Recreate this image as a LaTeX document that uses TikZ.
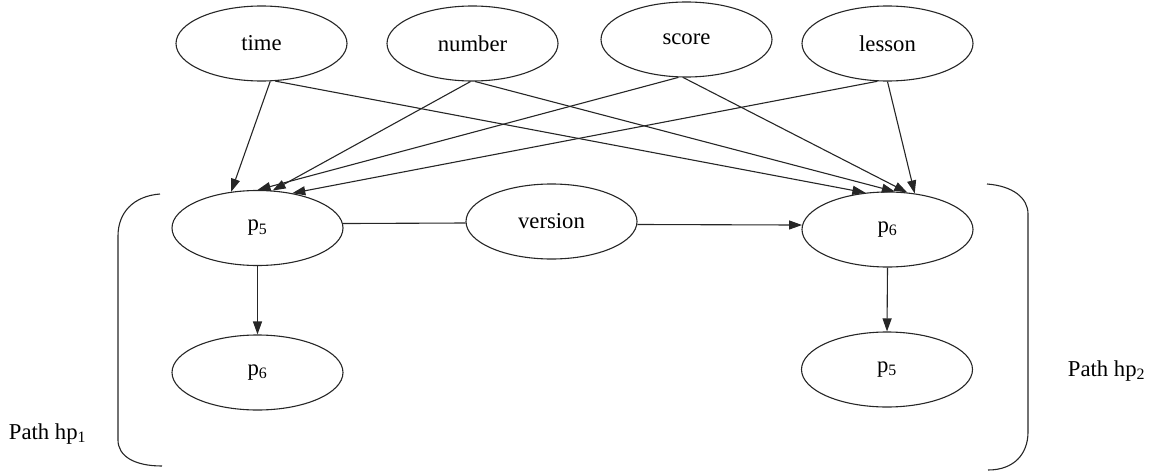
\documentclass[tikz,border=0pt]{standalone}
\usepackage{fontspec}
\setmainfont{Liberation Serif}
\usetikzlibrary{shapes.geometric,arrows.meta}
\begin{document}
\begin{tikzpicture}[x=1pt,y=-1pt,
  ell/.style={ellipse,draw=black!85,line width=1.1pt,minimum width=171pt,minimum height=75pt,inner sep=0pt,font=\fontsize{22.7}{27}\selectfont},
  arr/.style={draw=black!85,line width=1.1pt,-{Triangle[length=13pt,width=9pt]}},
  link/.style={draw=black!85,line width=1.1pt},
  lbl/.style={font=\fontsize{22.7}{27}\selectfont,inner sep=0pt}]
\useasboundingbox (0,0) rectangle (1151,471);
% nodes
\node[ell] (time)   at (261.5,43.5) {time};
\node[ell] (number) at (472.5,43.5) {number};
\node[ell] (score)  at (686.5,39.5) {score};
\node[ell] (lesson) at (887.5,43.5) {lesson};
\node[ell] (p5a)    at (257.5,228)  {p\textsubscript{5}};
\node[ell] (version) at (551.5,221.5) {version};
\node[ell] (p6a)    at (887.5,229.5) {p\textsubscript{6}};
\node[ell] (p6b)    at (257.5,372.5) {p\textsubscript{6}};
\node[ell] (p5b)    at (887,369.5)  {p\textsubscript{5}};
\node[lbl] (hp1) at (47.5,434) {Path hp\textsubscript{1}};
\node[lbl] (hp2) at (1106.5,371) {Path hp\textsubscript{2}};
% top edges
\draw[arr] (time.-77.2) -- (p5a.126.6);
\draw[arr] (time.-70.2) -- (p6a.121.4);
\draw[arr] (number.-93.8) -- (p5a.68.3);
\draw[arr] (number.-86.2) -- (p6a.79.2);
\draw[arr] (score.-102.8) -- (p5a.90.7);
\draw[arr] (score.-95.3) -- (p6a.62.6);
\draw[arr] (lesson.-105.6) -- (p5a.45.4);
\draw[arr] (lesson.-90.8) -- (p6a.53.7);
% middle
\draw[link] (p5a.3) -- (version.181);
\draw[arr] (version.-2.3) -- (p6a.177);
\draw[arr] (p5a.south) -- (p6b.north);
\draw[arr] (p6a.south) -- (p5b.north);
% brackets
\coordinate (lbt) at (160,194);
\coordinate (lbb) at (162,466);
\coordinate (rbt) at (987,184);
\coordinate (rbb) at (988,470);
\draw[link] (lbt) .. controls (134,196) and (118,212) .. (118,236) -- (118,440) .. controls (118,456) and (134,466) .. (lbb);
\draw[link] (rbt) .. controls (1013,186) and (1028,198) .. (1028,214) -- (1028,432) .. controls (1028,454) and (1014,470) .. (rbb);
\end{tikzpicture}
\end{document}
